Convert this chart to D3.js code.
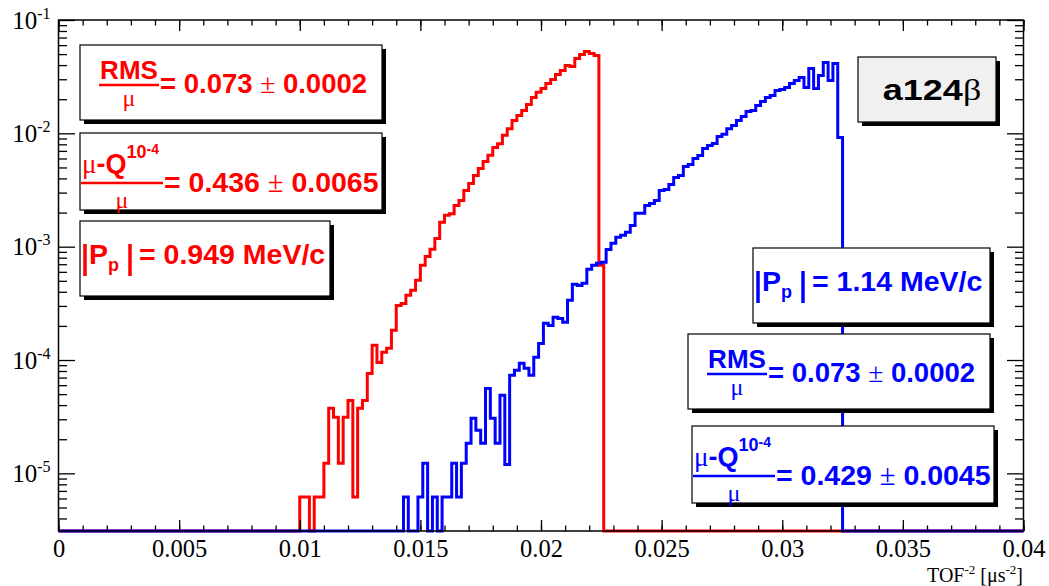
<!DOCTYPE html>
<html>
<head>
<meta charset="utf-8">
<script src="https://cdn.jsdelivr.net/npm/d3@7"></script>
<style>
  body { margin: 0; background: #fff; }
  svg { display: block; }
</style>
</head>
<body>
<script>
// histogram contents (TOF^-2 bins of width 0.0002)
const binWidth = 0.0002;

const redStart = 0.0100;
const redValues = [
    6.2e-6, 6.2e-6, 0, 6.2e-6, 6.2e-6, 1.23e-5, 3.75e-5, 3.13e-5, 1.23e-5, 3.13e-5,
    4.4e-5, 6.2e-6, 3.75e-5, 4.4e-5, 7.6e-5, 1.35e-4, 9.5e-5, 1.17e-4, 1.27e-4, 1.83e-4,
    3.03e-4, 3.16e-4, 3.72e-4, 4.12e-4, 5.05e-4, 6.84e-4, 8.2e-4, 9.5e-4, 1.18e-3, 1.64e-3,
    1.89e-3, 1.95e-3, 2.31e-3, 2.56e-3, 3.13e-3, 3.61e-3, 4.25e-3, 4.9e-3, 5.65e-3, 6.4e-3,
    7.5e-3, 8.1e-3, 9.6e-3, 1.10e-2, 1.30e-2, 1.44e-2, 1.59e-2, 1.80e-2, 2.07e-2, 2.30e-2,
    2.49e-2, 2.75e-2, 2.99e-2, 3.31e-2, 3.59e-2, 3.97e-2, 3.89e-2, 4.57e-2, 4.97e-2, 5.28e-2,
    5.07e-2, 4.86e-2, 6.84e-4,
];

const blueStart = 0.0141;
const blueValues = [
    0, 6.2e-6, 0, 0, 6.2e-6, 1.23e-5, 0, 6.2e-6, 0, 6.2e-6,
    6.2e-6, 1.23e-5, 6.2e-6, 1.23e-5, 1.84e-5, 3.06e-5, 2.4e-5, 1.84e-5, 5.62e-5, 3.06e-5,
    1.84e-5, 4.89e-5, 1.2e-5, 7.33e-5, 8.11e-5, 9.35e-5, 8.45e-5, 7.33e-5, 1.06e-4, 1.40e-4,
    2.11e-4, 2.02e-4, 2.38e-4, 2.33e-4, 2.15e-4, 3.36e-4, 4.65e-4, 4.55e-4, 4.75e-4, 6.31e-4,
    6.84e-4, 7.13e-4, 7.3e-4, 9.46e-4, 1.07e-3, 1.21e-3, 1.26e-3, 1.34e-3, 1.54e-3, 1.97e-3,
    1.97e-3, 2.31e-3, 2.41e-3, 2.56e-3, 3.13e-3, 3.19e-3, 3.54e-3, 4.08e-3, 4.25e-3, 5.11e-3,
    5.3e-3, 6.01e-3, 6.38e-3, 7.36e-3, 7.82e-3, 8.14e-3, 9.39e-3, 9.8e-3, 1.10e-2, 1.17e-2,
    1.30e-2, 1.41e-2, 1.56e-2, 1.59e-2, 1.76e-2, 1.91e-2, 2.07e-2, 2.16e-2, 2.39e-2, 2.44e-2,
    2.54e-2, 2.75e-2, 2.92e-2, 3.11e-2, 2.54e-2, 3.73e-2, 2.49e-2, 3.24e-2, 4.22e-2, 2.92e-2,
    4.13e-2, 9.2e-3,
];

// axes
const xMajorTicks = [0, 0.005, 0.01, 0.015, 0.02, 0.025, 0.03, 0.035, 0.04];
const xTickLabels = ['0', '0.005', '0.01', '0.015', '0.02', '0.025', '0.03', '0.035', '0.04'];
const xMinorTicks = d3.range(0, 41).map((i) => i / 1000);
const yDecades = [-5, -4, -3, -2, -1];
const yMin = 3.1e-6;
const yMax = 0.1;

const RED = '#ff0000';
const BLUE = '#0000ff';
const SANS = '"Liberation Sans", Arial, Helvetica, sans-serif';
const SERIF = '"Liberation Serif", "Times New Roman", serif';

const width = 1049;
const height = 586;
const frame = { left: 58.5, right: 1023.5, top: 20, bottom: 531 };

const svg = d3.select('body').append('svg')
    .attr('width', width)
    .attr('height', height)
    .attr('viewBox', [0, 0, width, height]);

svg.append('rect').attr('width', width).attr('height', height).attr('fill', '#fff');

const x = d3.scaleLinear().domain([0, 0.04]).range([frame.left, frame.right]);
const y = d3.scaleLog().domain([yMin, yMax]).range([frame.bottom, frame.top]);

// step outline over the whole x range, empty bins on the floor
function histPoints(start, values) {
    const floor = y(yMin);
    const pts = [[x(0), floor], [x(start), floor]];
    values.forEach((v, i) => {
        const yy = v > 0 ? y(v) : floor;
        pts.push([x(start + i * binWidth), yy]);
        pts.push([x(start + (i + 1) * binWidth), yy]);
    });
    pts.push([x(start + values.length * binWidth), floor]);
    pts.push([x(0.04), floor]);
    return pts;
}

const line = d3.line();

svg.append('path')
    .attr('d', line(histPoints(redStart, redValues)))
    .attr('fill', 'none')
    .attr('stroke', RED)
    .attr('stroke-width', 3);

svg.append('path')
    .attr('d', line(histPoints(blueStart, blueValues)))
    .attr('fill', 'none')
    .attr('stroke', BLUE)
    .attr('stroke-width', 3);

// frame
svg.append('rect')
    .attr('x', frame.left)
    .attr('y', frame.top)
    .attr('width', frame.right - frame.left)
    .attr('height', frame.bottom - frame.top)
    .attr('fill', 'none')
    .attr('stroke', '#000')
    .attr('stroke-width', 1.5);

function styleAxis(g) {
    g.select('.domain').remove();
    g.selectAll('line').attr('stroke', '#000').attr('stroke-width', 1.3);
}

// x axis (bottom + top), ticks inside the frame
svg.append('g')
    .attr('transform', `translate(0,${ frame.bottom })`)
    .call(d3.axisBottom(x).tickValues(xMinorTicks).tickSize(-5.5).tickFormat(''))
    .call(styleAxis);
svg.append('g')
    .attr('transform', `translate(0,${ frame.bottom })`)
    .call(d3.axisBottom(x).tickValues(xMajorTicks).tickSize(-11).tickPadding(9)
        .tickFormat((d, i) => xTickLabels[i]))
    .call(styleAxis)
    .call((g) => g.selectAll('text')
        .attr('fill', '#000')
        .style('font', `24.5px ${ SERIF }`));
svg.append('g')
    .attr('transform', `translate(0,${ frame.top })`)
    .call(d3.axisTop(x).tickValues(xMinorTicks).tickSize(-5.5).tickFormat(''))
    .call(styleAxis);
svg.append('g')
    .attr('transform', `translate(0,${ frame.top })`)
    .call(d3.axisTop(x).tickValues(xMajorTicks).tickSize(-11).tickFormat(''))
    .call(styleAxis);

// y axis (left + right), log ticks
const yMajor = yDecades.map((e) => Math.pow(10, e));
const yMinor = [];
[-6, -5, -4, -3, -2].forEach((e) => {
    d3.range(2, 10).forEach((m) => {
        const v = m * Math.pow(10, e);
        if (v >= yMin && v <= yMax) yMinor.push(v);
    });
});

svg.append('g')
    .attr('transform', `translate(${ frame.left },0)`)
    .call(d3.axisLeft(y).tickValues(yMinor).tickSize(-8.5).tickFormat(''))
    .call(styleAxis);
svg.append('g')
    .attr('transform', `translate(${ frame.left },0)`)
    .call(d3.axisLeft(y).tickValues(yMajor).tickSize(-16.5).tickPadding(8).tickFormat(''))
    .call(styleAxis)
    .call((g) => g.selectAll('.tick text')
        .attr('fill', '#000')
        .style('font', `25px ${ SERIF }`)
        .each(function (d, i) {
            const t = d3.select(this);
            t.append('tspan').text('10');
            t.append('tspan').attr('dy', -10).style('font-size', '16px').text(String(yDecades[i]));
        }));
svg.append('g')
    .attr('transform', `translate(${ frame.right },0)`)
    .call(d3.axisRight(y).tickValues(yMinor).tickSize(-8.5).tickFormat(''))
    .call(styleAxis);
svg.append('g')
    .attr('transform', `translate(${ frame.right },0)`)
    .call(d3.axisRight(y).tickValues(yMajor).tickSize(-16.5).tickFormat(''))
    .call(styleAxis);

// x title
const xt = svg.append('text')
    .attr('x', 1023)
    .attr('y', 581.5)
    .attr('text-anchor', 'end')
    .style('font', `20px ${ SERIF }`);
xt.append('tspan').text('TOF');
xt.append('tspan').attr('dy', -8).style('font-size', '13px').text('-2');
xt.append('tspan').attr('dy', 8).text(' [\u03bcs');
xt.append('tspan').attr('dy', -8).style('font-size', '13px').text('-2');
xt.append('tspan').attr('dy', 8).text(']');

// ---- pave texts with shadow ----
function pave(x0, y0, w, h, fill) {
    svg.append('rect')
        .attr('x', x0 + 4).attr('y', y0 + 4)
        .attr('width', w).attr('height', h)
        .attr('fill', '#000');
    svg.append('rect')
        .attr('x', x0).attr('y', y0)
        .attr('width', w).attr('height', h)
        .attr('fill', fill)
        .attr('stroke', '#000')
        .attr('stroke-width', 1.2);
}

function valueText(x0, base, color, val, err, size) {
    const t = svg.append('text')
        .attr('x', x0).attr('y', base)
        .attr('fill', color)
        .style('font', `bold ${ size }px ${ SANS }`);
    t.append('tspan').text(`= ${ val } `);
    t.append('tspan').style('font', `${ size }px ${ SERIF }`).text('\u00b1');
    t.append('tspan').text(` ${ err }`);
}

function muBelow(cx, base, color) {
    svg.append('text')
        .attr('x', cx).attr('y', base)
        .attr('text-anchor', 'middle')
        .attr('fill', color)
        .style('font', `24px ${ SERIF }`)
        .text('\u03bc');
}

function fracBar(x0, x1, yy, color) {
    svg.append('line')
        .attr('x1', x0).attr('x2', x1)
        .attr('y1', yy).attr('y2', yy)
        .attr('stroke', color)
        .attr('stroke-width', 2.6);
}

function rmsPave(bx, by, color, val, err) {
    pave(bx, by, 302, 75, '#fff');
    const fx0 = bx + 19;
    const fx1 = bx + 79;
    const cx = (fx0 + fx1) / 2;
    svg.append('text')
        .attr('x', cx).attr('y', by + 34)
        .attr('text-anchor', 'middle')
        .attr('fill', color)
        .style('font', `bold 26px ${ SANS }`)
        .text('RMS');
    fracBar(fx0, fx1, by + 40, color);
    muBelow(cx, by + 61, color);
    valueText(fx1 + 1, by + 48, color, val, err, 27.5);
}

function quantilePave(bx, by, color, val, err) {
    pave(bx, by, 302, 77, '#fff');
    const t = svg.append('text')
        .attr('x', bx + 2).attr('y', by + 40)
        .attr('fill', color)
        .style('font', `bold 27px ${ SANS }`);
    t.append('tspan').style('font', `27px ${ SERIF }`).text('\u03bc');
    t.append('tspan').text('-Q');
    t.append('tspan').attr('dy', -15).style('font-size', '18px').text('10');
    t.append('tspan').attr('dy', -4).style('font-size', '14px').text('-4');
    fracBar(bx + 1, bx + 83, by + 50, color);
    muBelow(bx + 42, by + 75, color);
    valueText(bx + 84, by + 59, color, val, err, 28.5);
}

function momentumPave(bx, by, w, color, val) {
    pave(bx, by, w, 75, '#fff');
    const base = by + 43;
    svg.append('line')
        .attr('x1', bx + 5).attr('x2', bx + 5)
        .attr('y1', base - 20).attr('y2', base + 12)
        .attr('stroke', color).attr('stroke-width', 3.5);
    const t = svg.append('text')
        .attr('x', bx + 9).attr('y', base)
        .attr('fill', color)
        .style('font', `bold 28.5px ${ SANS }`);
    t.append('tspan').text('P');
    t.append('tspan').attr('dy', 7).style('font-size', '18px').text('p');
    svg.append('line')
        .attr('x1', bx + 50).attr('x2', bx + 50)
        .attr('y1', base - 20).attr('y2', base + 12)
        .attr('stroke', color).attr('stroke-width', 3.5);
    svg.append('text')
        .attr('x', bx + 59).attr('y', base)
        .attr('fill', color)
        .style('font', `bold 28.5px ${ SANS }`)
        .text(`= ${ val } MeV/c`);
}

// red set
rmsPave(80, 45, RED, '0.073', '0.0002');
quantilePave(80, 133, RED, '0.436', '0.0065');
momentumPave(80, 221, 250, RED, '0.949');

// label
pave(858, 57, 138, 65, '#f0f0f0');
const lab = svg.append('text')
    .attr('transform', 'translate(932,100) scale(1.2,1)')
    .attr('text-anchor', 'middle')
    .attr('fill', '#000')
    .style('font', `bold 30px ${ SANS }`);
lab.append('tspan').text('a124');
lab.append('tspan').style('font', `30px ${ SERIF }`).text('\u03b2');

// blue set
momentumPave(753, 248, 237, BLUE, '1.14');
rmsPave(688, 334, BLUE, '0.073', '0.0002');
quantilePave(692, 426, BLUE, '0.429', '0.0045');
</script>
</body>
</html>
